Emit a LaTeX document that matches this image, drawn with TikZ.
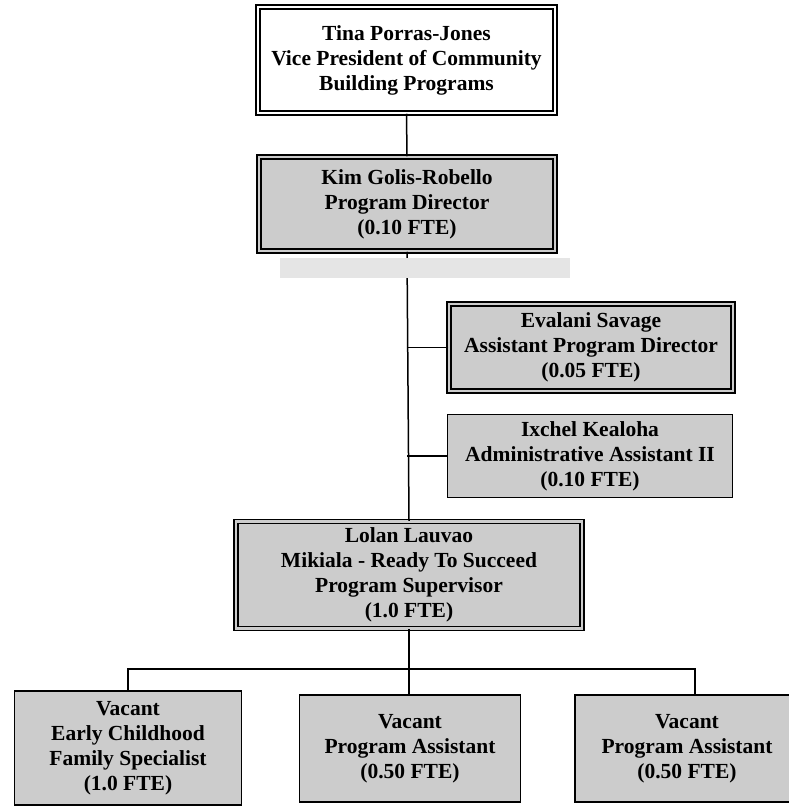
\documentclass[tikz,border=0pt]{standalone}
\usepackage{fontspec}
\setmainfont{Liberation Serif}
\begin{document}
\begin{tikzpicture}[x=1pt,y=-1pt,
    box/.style={draw, line width=1.4pt, fill=black!20, align=center,
      inner sep=0pt, font=\bfseries\fontsize{21.5}{25}\selectfont},
    dbox/.style={box, double=black!20, double distance=2.6pt, line width=1.5pt},
    link/.style={line width=1.5pt}]
  \useasboundingbox (0,0) rectangle (788,806);

  % Vice president
  \node[dbox, double=white, fill=white, minimum width=297pt, minimum height=106pt]
    (vp) at (406.5,60) {Tina Porras-Jones\\Vice President of Community\\Building Programs};

  % Program director
  \node[dbox, minimum width=296pt, minimum height=94pt]
    (pd) at (407,204) {Kim Golis-Robello\\Program Director\\(0.10 FTE)};

  % Staff
  \node[dbox, minimum width=284pt, minimum height=87pt]
    (apd) at (591,347.5) {Evalani Savage\\Assistant Program Director\\(0.05 FTE)};
  \node[box, minimum width=285pt, minimum height=83pt]
    (aa) at (590,456) {Ixchel Kealoha\\Administrative Assistant II\\(0.10 FTE)};

  % Supervisor
  \node[dbox, minimum width=346pt, minimum height=107pt]
    (sup) at (409,575) {Lolan Lauvao\\Mikiala - Ready To Succeed\\Program Supervisor\\(1.0 FTE)};

  % Vacant
  \node[box, minimum width=227pt, minimum height=114pt]
    (ecs) at (128,748) {Vacant\\Early Childhood\\Family Specialist\\(1.0 FTE)};
  \node[box, minimum width=221pt, minimum height=107pt]
    (pa1) at (410,748.5) {Vacant\\Program Assistant\\(0.50 FTE)};
  \node[box, minimum width=224pt, minimum height=107pt]
    (pa2) at (687,748.5) {Vacant\\Program Assistant\\(0.50 FTE)};

  % Lines
  \coordinate (bus) at (409,669);
  \draw[link] (vp.south) -- (pd.north);
  \draw[link] (pd.south) -- (sup.north);
  \draw[link] (apd.west) -- (apd.west -| pd.south);
  \draw[link] (aa.west) -- (aa.west -| pd.south);
  \draw[link] (sup.south) -- (sup.south |- pa1.north);
  \draw[link] (ecs.north) |- (bus) -| ([xshift=8pt]pa2.north);

  % Shading under director box
  \fill[black!10] (280,258) rectangle (570,278);
\end{tikzpicture}
\end{document}
